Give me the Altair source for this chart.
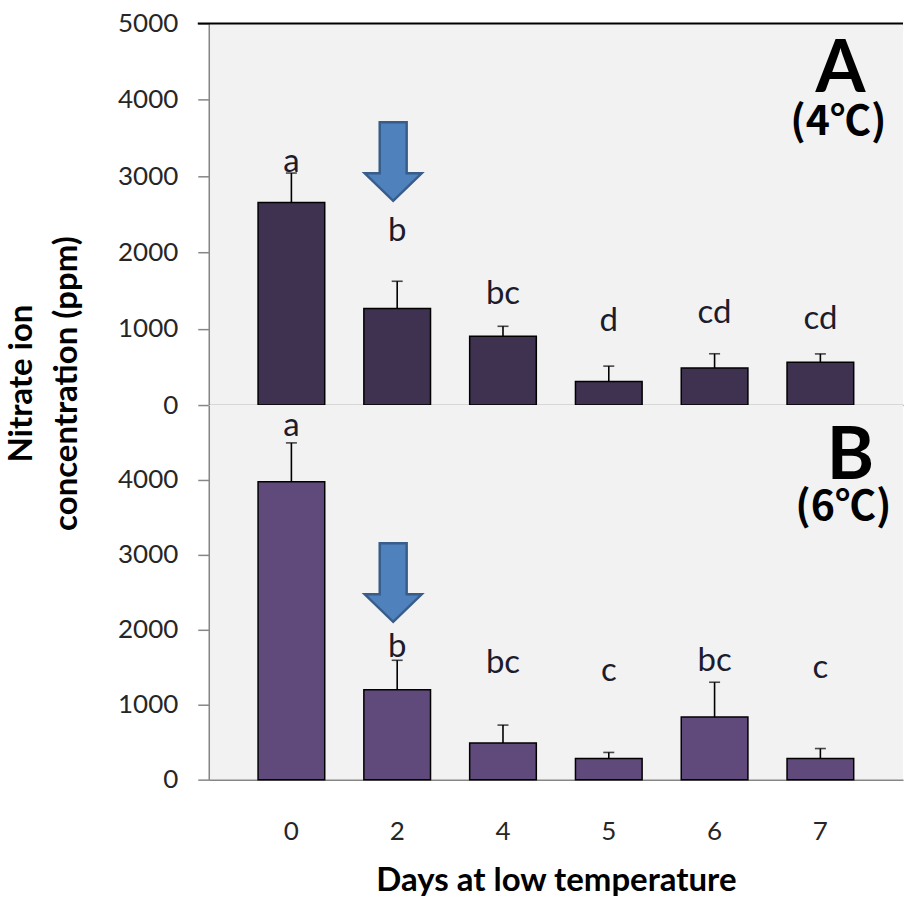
import altair as alt
import pandas as pd

# Sampling days (categorical axis)
days = ["0", "2", "4", "5", "6", "7"]

# Panel A: storage at 4 degC — mean nitrate ion concentration (ppm) and error (+SD)
mean_4c = [2655, 1265, 900, 310, 485, 560]
err_4c = [385, 357, 132, 200, 187, 110]
letters_4c = ["a", "b", "bc", "d", "cd", "cd"]
letter_y_4c = [3190, 2275, 1450, 1100, 1200, 1125]

# Panel B: storage at 6 degC
mean_6c = [3975, 1200, 490, 283, 836, 283]
err_6c = [520, 393, 238, 80, 464, 132]
letters_6c = ["a", "b", "bc", "c", "bc", "c"]
letter_y_6c = [4715, 1775, 1555, 1445, 1580, 1490]

# Arrow marker (day 2) and panel tags
arrow_day = "2"
arrow_y = [3190, 2630]
tags = ["A", "B"]
temps = ["(4℃)", "(6℃)"]
tag_y = [4105, 4010]
temp_y = [3700, 3630]

FONT = "Lato"
SYM_FONT = "'Noto Sans CJK JP', Lato"
AXIS_GRAY = "#868686"
W = 695
ARROW = ("M -0.343 -1 L 0.343 -1 L 0.343 0.298 L 0.725 0.298 "
         "L 0 1 L -0.725 0.298 L -0.343 0.298 Z")

x_scale = alt.Scale(domain=days, paddingInner=0.37, paddingOuter=0.466)
AXIS_STYLE = dict(
    grid=False, format="d", domainColor=AXIS_GRAY, domainWidth=1.5,
    tickColor=AXIS_GRAY, tickSize=11, tickWidth=1.5,
    labelFont=FONT, labelFontSize=26, labelColor="#262626", labelPadding=20,
)


def panel(mean, err, letters, letter_y, color, arr_y, tag, temp, t_y, tp_y,
          height, y_ticks, tag_dx, temp_dx, top_panel):
    df = pd.DataFrame({
        "day": days,
        "mean": mean,
        "top": [m + e for m, e in zip(mean, err)],
        "letter": letters,
        "ly": letter_y,
    })

    if top_panel:
        y_axis = alt.Axis(
            values=y_ticks, **AXIS_STYLE,
            title=["Nitrate ion", "concentration (ppm)"],
            titleFont=FONT, titleFontSize=33, titleFontWeight="bold",
            titleColor="black", titleAngle=-90, titleAlign="center",
            titleBaseline="middle", titleLineHeight=45, titleX=-187, titleY=360,
        )
        x_axis = alt.Axis(labels=False, ticks=False, title=None,
                          domainColor=AXIS_GRAY, domainWidth=1.5)
    else:
        y_axis = alt.Axis(values=y_ticks, title=None, **AXIS_STYLE)
        x_axis = alt.Axis(
            labelAngle=0, ticks=False, tickSize=0, domainColor=AXIS_GRAY,
            domainWidth=1.5, labelFont=FONT, labelFontSize=26,
            labelColor="#262626", labelPadding=39,
            title="Days at low temperature", titleFont=FONT, titleFontSize=33,
            titleFontWeight="bold", titleColor="black", titlePadding=20,
        )

    y_scale = alt.Scale(domain=[0, 5000], nice=False)
    base = alt.Chart(df)
    x_enc = alt.X("day:N", scale=x_scale, axis=x_axis, sort=days)

    bars = base.mark_bar(color=color, stroke="black", strokeWidth=1.5).encode(
        x=x_enc, y=alt.Y("mean:Q", scale=y_scale, axis=y_axis)
    )
    whisker = base.mark_rule(color="black", strokeWidth=1.6).encode(
        x=alt.X("day:N", sort=days), y="mean:Q", y2="top:Q"
    )
    cap = base.mark_tick(color="black", thickness=1.6, size=11).encode(
        x=alt.X("day:N", sort=days), y="top:Q"
    )
    letter_text = base.mark_text(
        font=FONT, fontSize=33, color="#1c1c2c", baseline="middle"
    ).encode(x=alt.X("day:N", sort=days), y="ly:Q", text="letter:N")

    arrow = alt.Chart(pd.DataFrame({"day": [arrow_day], "v": [arr_y]})).mark_point(
        shape=ARROW, filled=True, fill="#4f81bd", fillOpacity=1,
        stroke="#385d8a", strokeWidth=2.5, size=6180, opacity=1, xOffset=-4,
    ).encode(x=alt.X("day:N", sort=days), y="v:Q")

    tag_df = pd.DataFrame({"day": [days[-1]], "ty": [t_y], "t": [tag],
                           "py": [tp_y], "p": [temp]})
    tag_text = alt.Chart(tag_df).mark_text(
        font=FONT, fontSize=72, fontWeight="bold", color="black",
        baseline="alphabetic", dx=tag_dx,
    ).encode(x=alt.X("day:N", sort=days), y="ty:Q", text="t:N")
    temp_text = alt.Chart(tag_df).mark_text(
        font=SYM_FONT, fontSize=41, fontWeight="bold", color="black",
        baseline="middle", dx=temp_dx,
    ).encode(x=alt.X("day:N", sort=days), y="py:Q", text="p:N")

    layers = [bars, whisker, cap, letter_text, arrow, tag_text, temp_text]
    if top_panel:
        frame = alt.Chart(pd.DataFrame({"y": [5000]})).mark_rule(
            color="black", strokeWidth=2
        ).encode(y="y:Q", x=alt.value(-11), x2=alt.value(W))
        layers.append(frame)
    return alt.layer(*layers).properties(width=W, height=height)


top = panel(mean_4c, err_4c, letters_4c, letter_y_4c, "#3f3150", arrow_y[0],
            tags[0], temps[0], tag_y[0], temp_y[0], 382,
            [0, 1000, 2000, 3000, 4000, 5000], 20, 18, True)
bottom = panel(mean_6c, err_6c, letters_6c, letter_y_6c, "#604a7b", arrow_y[1],
               tags[1], temps[1], tag_y[1], temp_y[1], 375,
               [0, 1000, 2000, 3000, 4000], 30, 23, False)

chart = alt.vconcat(top, bottom, spacing=0, bounds="flush").configure_view(
    fill="#f2f2f2", strokeWidth=0
).properties(
    background="white",
    padding={"left": 6, "top": 10, "right": 0, "bottom": 0},
)

chart.save("out.html", embed_options={"renderer": "svg", "actions": False})
